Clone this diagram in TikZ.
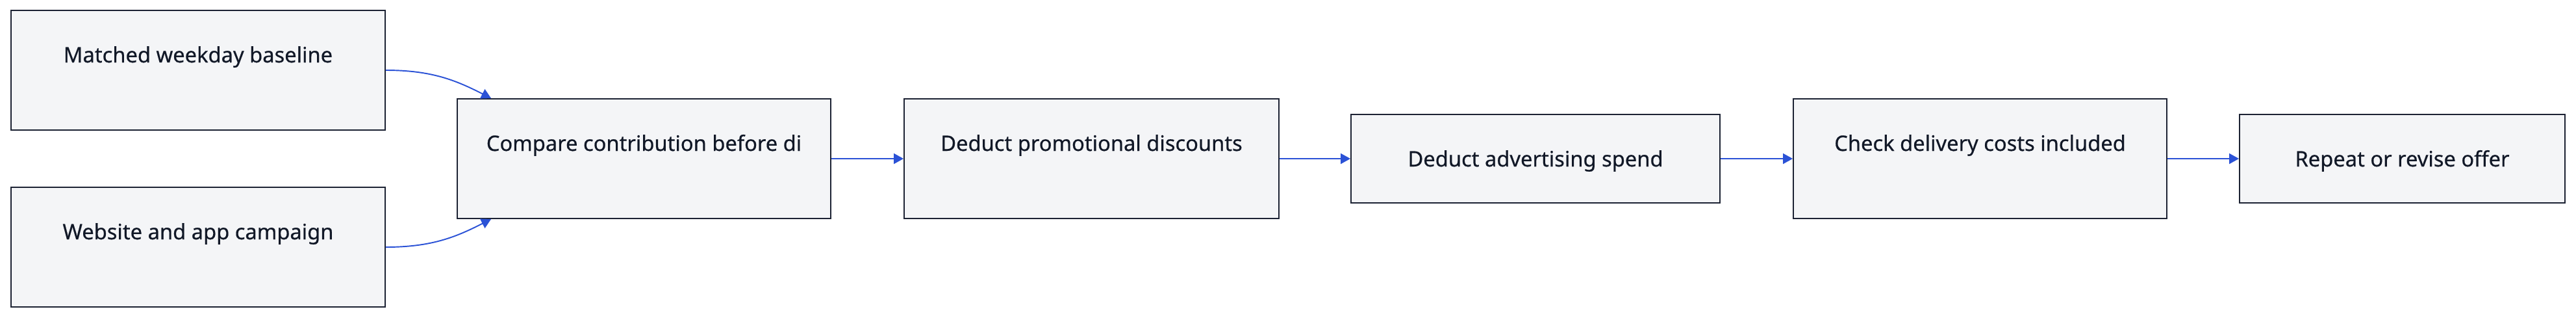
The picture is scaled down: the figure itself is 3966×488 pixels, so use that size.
\documentclass[tikz,border=0pt]{standalone}
\usepackage{fontspec}
\setmainfont{Noto Sans}[UprightFeatures={FakeBold=0.5}]
\usetikzlibrary{arrows.meta}
\definecolor{boxfill}{HTML}{F4F5F7}
\definecolor{boxline}{HTML}{1C2233}
\definecolor{arrowblue}{HTML}{2B52D6}
\definecolor{txtcol}{HTML}{111827}
\begin{document}
\begin{tikzpicture}[x=0.02cm,y=-0.02cm,
  box/.style={draw=boxline, fill=boxfill, line width=1.1pt, rectangle, inner sep=0pt,
    text=txtcol, font=\fontsize{18.6pt}{22pt}\selectfont, text height=1.6cm},
  tallbox/.style={box, minimum width=#1, minimum height=3.68cm, text depth=2.08cm},
  shortbox/.style={box, minimum width=#1, minimum height=2.72cm, text depth=1.12cm},
  flow/.style={draw=arrowblue, line width=1.1pt, -{Triangle[length=0.3cm,width=0.32cm]}}
]
\useasboundingbox (0,0) rectangle (3966,488);
\node[tallbox=11.52cm] (base) at (305,108) {Matched weekday baseline};
\node[tallbox=11.52cm] (camp) at (305,380) {Website and app campaign};
\node[tallbox=11.5cm] (cmp) at (991.5,244) {Compare contribution before di};
\node[tallbox=11.54cm] (promo) at (1680.5,244) {Deduct promotional discounts};
\node[shortbox=11.36cm] (adv) at (2364,244) {Deduct advertising spend};
\node[tallbox=11.5cm] (deliv) at (3048.5,244) {Check delivery costs included};
\node[shortbox=10.02cm] (rep) at (3698.5,244) {Repeat or revise offer};
\coordinate (cmpin1) at ([xshift=1.06cm]cmp.north west);
\coordinate (cmpin2) at ([xshift=1.06cm]cmp.south west);
\draw[flow] (base.east) .. controls +(70,0) and +(-55,-28) .. (cmpin1);
\draw[flow] (camp.east) .. controls +(70,0) and +(-55,28) .. (cmpin2);
\draw[flow] (cmp) -- (promo);
\draw[flow] (promo) -- (adv);
\draw[flow] (adv) -- (deliv);
\draw[flow] (deliv) -- (rep);
\end{tikzpicture}
\end{document}
